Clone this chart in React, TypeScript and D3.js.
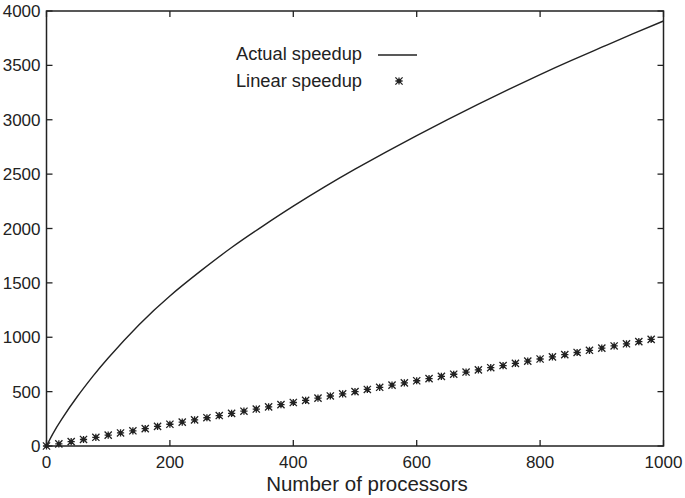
import React from "react";
import * as d3 from "d3";

const actualN = [0, 10, 25, 50, 75, 100, 150, 200, 250, 300, 350, 400, 450, 500, 550, 600, 650, 700, 750, 800, 850, 900, 950, 1000];
const actualS = [0, 110, 250, 455, 640, 810, 1115, 1380, 1610, 1825, 2020, 2205, 2380, 2545, 2703, 2855, 3002, 3144, 3281, 3415, 3543, 3667, 3790, 3908];
const linearN = d3.range(0, 1000, 20);
const linearS = linearN.map((n) => n);
const xTicks = [0, 200, 400, 600, 800, 1000];
const yTicks = [0, 500, 1000, 1500, 2000, 2500, 3000, 3500, 4000];
const xLabel = "Number of processors";
const legendLabels = ["Actual speedup", "Linear speedup"];

const W = 685, H = 498;
const L = 46.5, R = 663.5, T = 11, B = 446;
const FONT = "'Liberation Sans', Arial, Helvetica, sans-serif";
const INK = "#222";

function Star({ x, y }: { x: number; y: number }) {
  const s = 3.6;
  const d = `M${x - s},${y}L${x + s},${y}M${x},${y - s}L${x},${y + s}M${x - s},${y - s}L${x + s},${y + s}M${x - s},${y + s}L${x + s},${y - s}`;
  return (
    <g>
      <path d={d} stroke={INK} strokeWidth={1.3} fill="none" />
      <rect x={x - 1.8} y={y - 1.8} width={3.6} height={3.6} fill={INK} />
    </g>
  );
}

export default function App() {
  const x = d3.scaleLinear().domain([0, 1000]).range([L, R]);
  const y = d3.scaleLinear().domain([0, 4000]).range([B, T]);
  const line = d3
    .line<number>()
    .x((_, i) => x(actualN[i]))
    .y((d) => y(d))
    .curve(d3.curveNatural);
  const tick = 6;
  return (
    <svg width={W} height={H} style={{ position: "absolute", left: 0, top: 0 }}>
      <rect x={0} y={0} width={W} height={H} fill="white" />
      <path d={line(actualS) || ""} fill="none" stroke={INK} strokeWidth={1.4} />
      {linearN.map((n, i) => (
        <Star key={n} x={x(n)} y={y(linearS[i])} />
      ))}
      <rect x={L} y={T} width={R - L} height={B - T} fill="none" stroke={INK} strokeWidth={1.5} />
      {xTicks.map((t) => (
        <g key={"x" + t}>
          <line x1={x(t)} x2={x(t)} y1={B} y2={B - tick} stroke={INK} strokeWidth={1.3} />
          <line x1={x(t)} x2={x(t)} y1={T} y2={T + tick} stroke={INK} strokeWidth={1.3} />
          <text x={x(t)} y={B + 22} textAnchor="middle" fontFamily={FONT} fontSize={17} fill={INK}>
            {t}
          </text>
        </g>
      ))}
      {yTicks.map((t) => (
        <g key={"y" + t}>
          <line x1={L} x2={L + tick} y1={y(t)} y2={y(t)} stroke={INK} strokeWidth={1.3} />
          <line x1={R} x2={R - tick} y1={y(t)} y2={y(t)} stroke={INK} strokeWidth={1.3} />
          <text x={L - 6} y={y(t) + 6} textAnchor="end" fontFamily={FONT} fontSize={17} fill={INK}>
            {t}
          </text>
        </g>
      ))}
      <text x={367} y={491} textAnchor="middle" fontFamily={FONT} fontSize={20.5} fill={INK}>
        {xLabel}
      </text>
      <text x={362} y={60} textAnchor="end" fontFamily={FONT} fontSize={18.3} fill={INK}>
        {legendLabels[0]}
      </text>
      <line x1={378} x2={417} y1={55} y2={55} stroke={INK} strokeWidth={1.4} />
      <text x={362} y={87} textAnchor="end" fontFamily={FONT} fontSize={18.3} fill={INK}>
        {legendLabels[1]}
      </text>
      <Star x={399} y={81} />
    </svg>
  );
}
